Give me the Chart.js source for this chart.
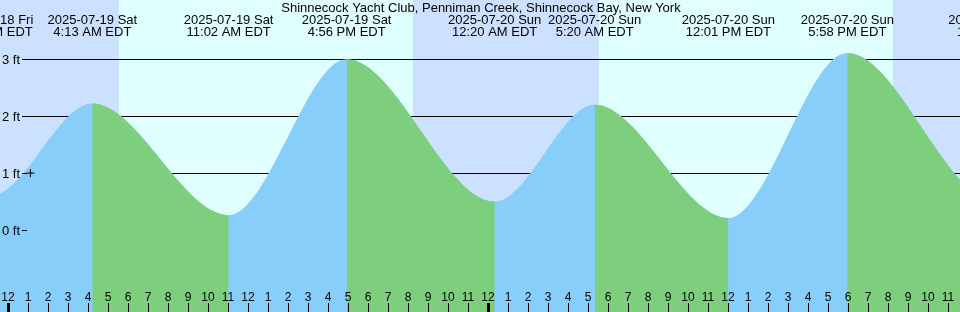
<!DOCTYPE html>
<html>
<head>
<meta charset="utf-8">
<script src="https://cdn.jsdelivr.net/npm/chart.js@4.4.0/dist/chart.umd.min.js"></script>
<style>
body{margin:0;background:#fff;}
#wrap{width:960px;height:312px;}
</style>
</head>
<body>
<div id="wrap"><canvas id="tideChart" width="960" height="312"></canvas></div>
<script>
var chartTitle = 'Shinnecock Yacht Club, Penniman Creek, Shinnecock Bay, New York';

// high / low tides (first and last are off screen, they only shape the ends)
var tideDates = ['2025-07-18 Fri','2025-07-18 Fri','2025-07-19 Sat','2025-07-19 Sat','2025-07-19 Sat','2025-07-20 Sun','2025-07-20 Sun','2025-07-20 Sun','2025-07-20 Sun','2025-07-21 Mon','2025-07-21 Mon'];
var tideTimes = ['4:10 PM EDT','11:08 PM EDT','4:13 AM EDT','11:02 AM EDT','4:56 PM EDT','12:20 AM EDT','5:20 AM EDT','12:01 PM EDT','5:58 PM EDT','1:24 AM EDT','6:05 AM EDT'];
var tideFeet = [2.9, 0.6, 2.22, 0.26, 3.0, 0.5, 2.2, 0.21, 3.11, 0.5, 2.3];

// night = sunset -> sunrise, hours from 2025-07-19 00:00
var nightStart = [-10, 20.25, 44.27];
var nightEnd = [5.55, 29.53, 60];

var hourLabels = ['12','1','2','3','4','5','6','7','8','9','10','11'];
var feetTicks = [0, 1, 2, 3];

// the little + marker
var markerHour = [1.12];
var markerFt = [1.0];

var floodColor = '#87cefa';
var ebbColor = '#7dcf7d';
var dayColor = '#e0ffff';
var nightColor = '#cce0ff';
var FONT = '13px "Liberation Sans", Arial, sans-serif';

function toHour(d, t){
  var day = parseInt(d.slice(8,10),10) - 19;
  var m = t.match(/(\d+):(\d+) (AM|PM)/);
  var h = parseInt(m[1],10) % 12 + (m[3]=='PM' ? 12 : 0);
  return day*24 + h + parseInt(m[2],10)/60;
}
var tideHours = tideDates.map(function(d,i){ return toHour(d, tideTimes[i]); });

var tidePlugin = {
  id: 'tideDecor',
  beforeDatasetsDraw: function(chart){
    var ctx = chart.ctx, xs = chart.scales.x, ys = chart.scales.y, a = chart.chartArea;
    ctx.save();
    ctx.fillStyle = dayColor;
    ctx.fillRect(a.left, a.top, a.right-a.left, a.bottom-a.top);
    ctx.fillStyle = nightColor;
    for (var i=0;i<nightStart.length;i++){
      var x0 = Math.max(a.left, xs.getPixelForValue(nightStart[i]));
      var x1 = Math.min(a.right, xs.getPixelForValue(nightEnd[i]));
      if (x1 > x0) ctx.fillRect(Math.round(x0), a.top, Math.round(x1)-Math.round(x0), a.bottom-a.top);
    }
    ctx.fillStyle = '#000';
    feetTicks.forEach(function(f){
      var py = Math.round(ys.getPixelForValue(f));
      ctx.fillRect(22, py, a.right-22, 1);
    });
    ctx.restore();
  },
  afterDatasetsDraw: function(chart){
    var ctx = chart.ctx, xs = chart.scales.x, ys = chart.scales.y, a = chart.chartArea;
    ctx.save();
    ctx.fillStyle = '#000';
    ctx.font = FONT;
    ctx.textAlign = 'center';
    ctx.textBaseline = 'alphabetic';
    ctx.fillText(chartTitle, 481, 12);
    for (var i=0;i<tideHours.length;i++){
      var px = xs.getPixelForValue(tideHours[i]);
      ctx.fillText(tideDates[i], px, 24);
      ctx.fillText(tideTimes[i], px, 36);
    }
    // y labels
    ctx.textAlign = 'left';
    feetTicks.forEach(function(f){
      var py = Math.round(ys.getPixelForValue(f));
      ctx.fillText(f + ' ft', 2, py + 5);
      ctx.fillRect(22, py, 5, 1);
    });
    // hour ticks
    ctx.textAlign = 'center';
    ctx.font = '12px "Liberation Sans", Arial, sans-serif';
    for (var h=Math.ceil(xs.min); h<=Math.floor(xs.max); h++){
      var hx = Math.round(xs.getPixelForValue(h));
      ctx.fillText(hourLabels[((h%12)+12)%12], hx, 301);
      if (h % 24 == 0) ctx.fillRect(hx-1, 303, 3, 9);
      else ctx.fillRect(hx, 303, 1, 9);
    }
    ctx.restore();
  }
};

var tidePoints = tideHours.map(function(h,i){ return {x:h, y:tideFeet[i]}; });
var markerPoints = markerHour.map(function(h,i){ return {x:h, y:markerFt[i]}; });

var chartArea = document.getElementById('tideChart').getContext('2d');
var myChart = new Chart(chartArea, {
  type: 'line',
  data: {
    datasets: [{
      data: markerPoints,
      showLine: false,
      pointStyle: 'cross',
      pointRadius: 4,
      borderColor: '#000',
      borderWidth: 1,
      order: 0
    },{
      // falling tide, drawn over the rising fill
      data: tidePoints,
      cubicInterpolationMode: 'monotone',
      borderWidth: 0,
      borderColor: 'rgba(0,0,0,0)',
      pointRadius: 0,
      fill: 'start',
      backgroundColor: ebbColor,
      segment: {
        backgroundColor: function(c){ return c.p1.parsed.y < c.p0.parsed.y ? ebbColor : 'rgba(0,0,0,0)'; }
      },
      order: 1
    },{
      // rising tide fill under everything
      data: tidePoints,
      cubicInterpolationMode: 'monotone',
      borderWidth: 0,
      borderColor: 'rgba(0,0,0,0)',
      pointRadius: 0,
      fill: 'start',
      backgroundColor: floodColor,
      order: 2
    }]
  },
  options: {
    responsive: false,
    animation: false,
    layout: { padding: 0, autoPadding: false },
    scales: {
      x: { type: 'linear', min: -0.4, max: 47.6, display: false },
      y: { min: -1.44, max: 4.04, display: false }
    },
    plugins: {
      legend: { display: false },
      tooltip: { enabled: false }
    }
  },
  plugins: [tidePlugin]
});
</script>
</body>
</html>
